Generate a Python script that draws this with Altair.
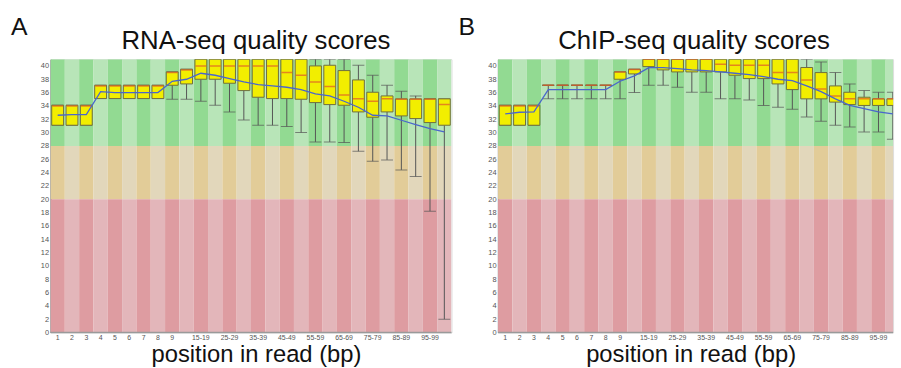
import json
import altair as alt
import pandas as pd

# ---------------- data ----------------
POSITIONS = ["1", "2", "3", "4", "5", "6", "7", "8", "9",
             "10-14", "15-19", "20-24", "25-29", "30-34", "35-39", "40-44",
             "45-49", "50-54", "55-59", "60-64", "65-69", "70-74", "75-79",
             "80-84", "85-89", "90-94", "95-99", "100-101"]
SHOWN_LABELS = ["1", "2", "3", "4", "5", "6", "7", "8", "9",
                "15-19", "25-29", "35-39", "45-49", "55-59", "65-69",
                "75-79", "85-89", "95-99"]
Y_TICKS = [0, 2, 4, 6, 8, 10, 12, 14, 16, 18, 20, 22, 24, 26, 28, 30, 32, 34, 36, 38, 40]

ZONE_NAMES = ["good", "warn", "bad"]
ZONE_LO = [28, 20, 0]
ZONE_HI = [41, 28, 20]
BG_KEYS = ["good0", "good1", "warn0", "warn1", "bad0", "bad1"]

LETTERS = ["A", "B"]
TITLES = ["RNA-seq quality scores", "ChIP-seq quality scores"]
X_TITLE = "position in read (bp)"

# Panel A : RNA-seq
A_Q1 = [31.1, 31.1, 31.1, 35.1, 35.1, 35.1, 35.1, 35.1, 37.1, 37.3, 38.0, 38.0, 37.4, 36.3,
        35.3, 35.1, 35.1, 35.0, 34.5, 34.2, 34.1, 33.1, 32.3, 33.1, 32.5, 32.1, 31.5, 31.1]
A_Q3 = [34.1, 34.1, 34.1, 37.1, 37.1, 37.1, 37.1, 37.1, 39.1, 39.5, 41.0, 41.0, 41.0, 41.0,
        41.0, 41.0, 41.0, 41.0, 40.0, 40.1, 39.3, 37.9, 36.05, 35.5, 35.06, 35.06, 35.06, 35.06]
A_MED = [34.0, 34.0, 34.0, 37.0, 37.0, 37.0, 37.0, 37.0, 39.0, 39.4, 40.0, 40.0, 40.0, 40.0,
         40.0, 40.0, 39.0, 38.6, 37.6, 36.9, 35.65, 35.06, 34.7, 35.06, 35.0, 35.0, 35.0, 34.2]
A_LO = [31.1, 31.1, 31.1, 35.1, 35.1, 35.1, 35.1, 35.1, 35.0, 35.0, 34.7, 34.1, 33.1, 31.9,
        31.1, 31.1, 30.9, 30.0, 28.6, 28.6, 28.5, 27.2, 25.7, 25.9, 24.4, 23.4, 18.2, 2.0]
A_HI = [34.1, 34.1, 34.1, 37.1, 37.1, 37.1, 37.1, 37.1, 39.1, 39.5, 41.0, 41.0, 41.0, 41.0,
        41.0, 41.0, 41.0, 41.0, 41.0, 41.0, 41.0, 40.1, 38.6, 37.1, 36.2, 35.5, 35.06, 35.06]
A_MEAN = [32.6, 32.7, 32.7, 36.15, 36.0, 36.0, 36.0, 36.0, 37.7, 38.0, 38.9, 38.6, 38.1, 37.6,
          37.2, 37.0, 36.8, 36.45, 35.8, 35.5, 34.7, 33.8, 32.6, 32.5, 31.85, 31.2, 30.6, 30.1]

# Panel B : ChIP-seq
B_Q1 = [31.1, 31.1, 31.1, 37.1, 37.1, 37.1, 37.1, 37.1, 38.0, 38.8, 39.9, 39.4, 39.1, 39.1,
        39.1, 39.1, 38.6, 38.1, 38.1, 37.3, 36.45, 35.06, 35.06, 34.57, 34.2, 34.07, 34.07, 34.07]
B_Q3 = [34.1, 34.1, 34.1, 37.1, 37.1, 37.1, 37.1, 37.1, 39.1, 39.5, 41.0, 41.0, 41.0, 41.0,
        41.0, 41.0, 41.0, 41.0, 41.0, 41.0, 41.0, 39.76, 39.0, 37.0, 36.05, 35.3, 35.06, 35.06]
B_MED = [34.0, 34.0, 34.0, 37.1, 37.1, 37.1, 37.1, 37.1, 39.1, 39.45, 41.0, 41.0, 41.0, 41.0,
         41.0, 40.25, 40.1, 40.1, 40.1, 39.0, 39.0, 37.9, 36.55, 35.5, 35.06, 35.06, 35.06, 35.06]
B_LO = [31.1, 31.1, 31.1, 35.06, 35.06, 35.06, 35.06, 35.06, 35.06, 36.0, 37.1, 37.1, 36.8, 36.05,
        36.05, 35.06, 35.06, 34.9, 34.07, 33.8, 33.5, 32.35, 31.7, 31.1, 30.85, 30.1, 30.1, 29.0]
B_HI = [34.1, 34.1, 34.1, 37.1, 37.1, 37.1, 37.1, 37.1, 39.1, 39.5, 41.0, 41.0, 41.0, 41.0,
        41.0, 41.0, 41.0, 41.0, 41.0, 41.0, 41.0, 41.0, 40.6, 39.0, 37.3, 36.3, 36.05, 36.05]
B_MEAN = [32.8, 33.05, 33.1, 36.45, 36.45, 36.45, 36.45, 36.45, 37.7, 38.5, 39.75, 39.75, 39.6, 39.4,
          39.3, 39.1, 38.9, 38.7, 38.4, 38.0, 37.8, 37.0, 36.15, 35.06, 34.07, 33.6, 33.1, 32.8]

PALETTE_A = ["#92da92", "#b8e5b8", "#e2cc98", "#e2d7bb", "#de9ca1", "#e3b6ba"]
PALETTE_B = ["#ace4ac", "#c8eac8", "#e6d4ab", "#e6ddc8", "#e6adb1", "#eac6c9"]

BOX_FILL = "#f2ee00"
BOX_STROKE = "#6e6e40"
MEDIAN_COLOR = "#e05a28"
WHISKER_COLOR = "#555555"
MEAN_COLOR = "#4a66cc"
FONT = "Liberation Sans"

PLOT_H = 276


def panel(idx, q1, q3, med, lo, hi, mean, plot_w, band_span, title_x, xtitle_x, palette, anchor):
    df = pd.DataFrame({"pos": POSITIONS, "q1": q1, "q3": q3, "med": med,
                       "lo": lo, "hi": hi, "mean": mean})
    rows = []
    for i, p in enumerate(POSITIONS):
        for z, zl, zh in zip(ZONE_NAMES, ZONE_LO, ZONE_HI):
            rows.append({"pos": p, "zlo": zl, "zhi": zh, "key": f"{z}{i % 2}"})
    bg = pd.DataFrame(rows)

    xscale = alt.Scale(domain=POSITIONS, range=[0, band_span], paddingInner=0, paddingOuter=0)
    yscale = alt.Scale(domain=[0, 41], nice=False, zero=False)
    label_expr = "indexof(%s, datum.value) >= 0 ? datum.value : ''" % json.dumps(SHOWN_LABELS)
    xaxis = alt.Axis(title=None, domain=False, ticks=False, tickSize=0, labelPadding=1,
                     labelFontSize=7, labelColor="#555555", labelAngle=0, labelOverlap=False,
                     labelExpr=label_expr, grid=False, labelFont=FONT)
    yaxis = alt.Axis(title=None, values=Y_TICKS, ticks=False, tickSize=0, labelPadding=2,
                     labelFontSize=7.5, labelColor="#555555", domainColor="#9a9a9a",
                     domainWidth=1.5, grid=False, labelOverlap=False, labelFont=FONT)

    def X():
        return alt.X("pos:N", scale=xscale, axis=xaxis)

    def Y(f):
        return alt.Y(f"{f}:Q", scale=yscale, axis=yaxis)

    background = alt.Chart(bg).mark_rect(clip=True).encode(
        x=X(), y=Y("zlo"), y2="zhi:Q",
        color=alt.Color("key:N", scale=alt.Scale(domain=BG_KEYS, range=palette), legend=None),
    )
    base = alt.Chart(df)
    wl = base.mark_rule(color=WHISKER_COLOR, strokeWidth=1, clip=True).encode(x=X(), y=Y("lo"), y2="q1:Q")
    wh = base.mark_rule(color=WHISKER_COLOR, strokeWidth=1, clip=True).encode(x=X(), y=Y("q3"), y2="hi:Q")
    cl = base.mark_tick(color=WHISKER_COLOR, thickness=1, size=12, clip=True).encode(x=X(), y=Y("lo"))
    ch = base.mark_tick(color=WHISKER_COLOR, thickness=1, size=12, clip=True).encode(x=X(), y=Y("hi"))
    boxes = base.mark_bar(width=12, fill=BOX_FILL, stroke=BOX_STROKE, strokeWidth=1, clip=True).encode(
        x=X(), y=Y("q1"), y2="q3:Q")
    meds = base.mark_tick(color=MEDIAN_COLOR, thickness=1.5, size=11, clip=True).encode(x=X(), y=Y("med"))
    meanl = base.mark_line(color=MEAN_COLOR, strokeWidth=1.3, clip=True).encode(x=X(), y=Y("mean"))

    one = pd.DataFrame({"letter": [LETTERS[idx]], "title": [TITLES[idx]], "xt": [X_TITLE]})
    one_c = alt.Chart(one)
    bottom = one_c.mark_rule(color="#9a9a9a", strokeWidth=1.5).encode(
        x=alt.value(0), x2=alt.value(plot_w), y=alt.value(PLOT_H))
    letter = one_c.mark_text(fontSize=25, font=FONT, align="left", baseline="alphabetic",
                             color="#111111").encode(
        x=alt.value(-40), y=alt.value(-24), text="letter:N")
    title = one_c.mark_text(fontSize=26, font=FONT, align="center", baseline="alphabetic",
                            color="#111111").encode(
        x=alt.value(title_x), y=alt.value(-10.5), text="title:N")
    xtitle = one_c.mark_text(fontSize=24, font=FONT, align="center", baseline="alphabetic",
                             color="#111111").encode(
        x=alt.value(xtitle_x), y=alt.value(PLOT_H + 30), text="xt:N")
    layers = [background, wl, wh, cl, ch, boxes, meds, meanl, bottom, letter, title, xtitle]
    if anchor:
        layers.append(one_c.mark_rule(strokeWidth=0, opacity=0).encode(
            x=alt.value(-50), x2=alt.value(-50), y=alt.value(-57), y2=alt.value(-57)))
    return alt.layer(*layers).properties(width=plot_w, height=PLOT_H)


panel_a = panel(0, A_Q1, A_Q3, A_MED, A_LO, A_HI, A_MEAN, 405, 405, 207.5, 208, PALETTE_A, True)
panel_b = panel(1, B_Q1, B_Q3, B_MED, B_LO, B_HI, B_MEAN, 399, 406, 198, 195, PALETTE_B, False)

chart = alt.hconcat(panel_a, panel_b, spacing=47, bounds="flush").properties(
    padding=0, background="white"
).configure_view(stroke=None).configure(font=FONT)

chart.save("out.html", embed_options={"renderer": "svg", "actions": False})
